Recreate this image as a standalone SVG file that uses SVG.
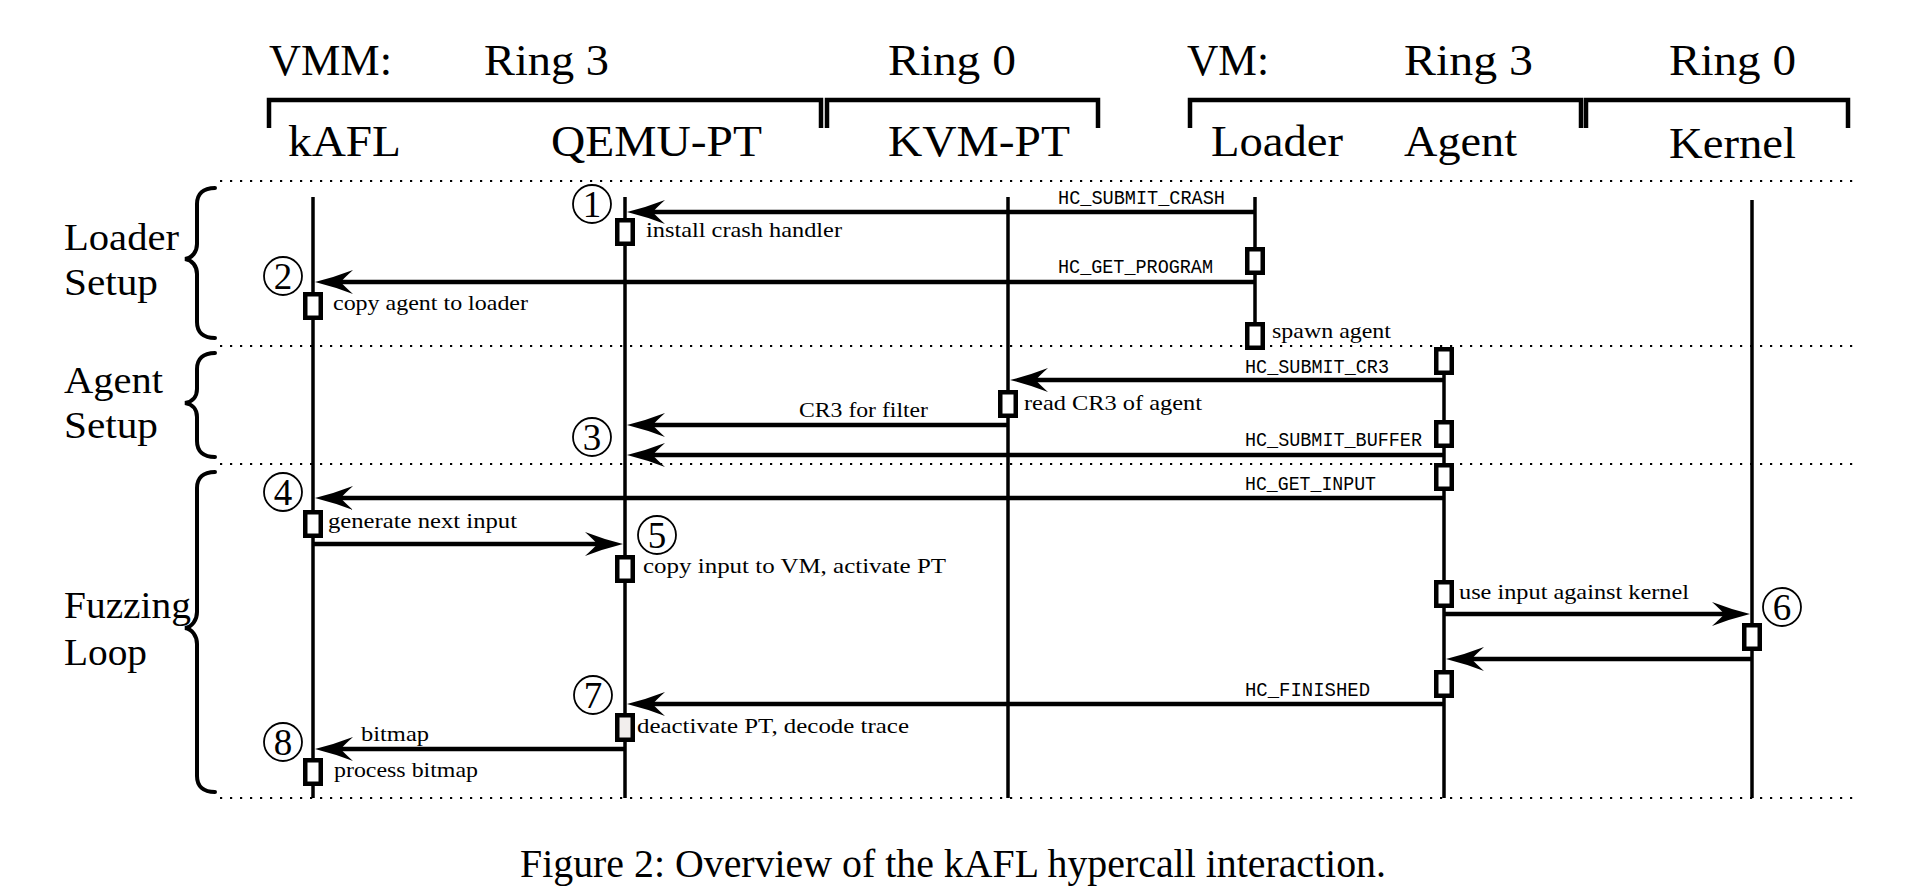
<svg xmlns="http://www.w3.org/2000/svg" width="1917" height="891" viewBox="0 0 1917 891">
<defs>
<style>
.hd{font-family:"Liberation Serif","Times New Roman",serif;font-size:44px;fill:#000}
.sd{font-family:"Liberation Serif","Times New Roman",serif;font-size:37.5px;fill:#000}
.sm{font-family:"Liberation Serif","Times New Roman",serif;font-size:21.7px;fill:#000}
.tt{font-family:"Liberation Mono","Courier New",monospace;font-size:21px;fill:#000}
.cap{font-family:"Liberation Serif","Times New Roman",serif;font-size:40px;fill:#000}
.num{font-family:"Liberation Serif","Times New Roman",serif;font-size:37px;fill:#000;text-anchor:middle}
.life{stroke:#000;stroke-width:3.5;fill:none}
.arr{stroke:#000;stroke-width:4.5;fill:none;marker-end:url(#ah)}
.box{fill:#fff;stroke:#000;stroke-width:4.5}
.box2{fill:#f2eeed;stroke:#000;stroke-width:4.5}
.dot{stroke:#000;stroke-width:2.2;stroke-dasharray:2.2 7.8;fill:none}
.brk{stroke:#000;stroke-width:4.5;fill:none;stroke-linejoin:miter}
.brace{stroke:#000;stroke-width:4;fill:none;stroke-linecap:round}
.circ{fill:none;stroke:#000;stroke-width:1.8}
</style>
<marker id="ah" viewBox="-40 -13 42 26" refX="-24" refY="0" markerWidth="42" markerHeight="26" markerUnits="userSpaceOnUse" orient="auto">
<path d="M0,0 Q-20,-5 -38,-12 Q-28,-3 -26,0 Q-28,3 -38,12 Q-20,5 0,0 Z" fill="#000"/>
</marker>
</defs>
<rect width="1917" height="891" fill="#fff"/>

<g id="header">
<text class="hd" x="269" y="75" textLength="123" lengthAdjust="spacingAndGlyphs">VMM:</text>
<text class="hd" x="484" y="75" textLength="125" lengthAdjust="spacingAndGlyphs">Ring 3</text>
<text class="hd" x="888" y="75" textLength="128" lengthAdjust="spacingAndGlyphs">Ring 0</text>
<text class="hd" x="1187" y="75" textLength="82" lengthAdjust="spacingAndGlyphs">VM:</text>
<text class="hd" x="1404" y="75" textLength="129" lengthAdjust="spacingAndGlyphs">Ring 3</text>
<text class="hd" x="1669" y="75" textLength="127" lengthAdjust="spacingAndGlyphs">Ring 0</text>
<path class="brk" d="M269,128 V100 H821 V128"/>
<path class="brk" d="M827,128 V100 H1098 V128"/>
<path class="brk" d="M1190,128 V100 H1581 V128"/>
<path class="brk" d="M1586,128 V100 H1848 V128"/>
</g>

<g id="separators">
<line class="dot" x1="220" y1="181" x2="1854" y2="181"/>
<line class="dot" x1="220" y1="346" x2="1854" y2="346"/>
<line class="dot" x1="220" y1="464" x2="1854" y2="464"/>
<line class="dot" x1="220" y1="798" x2="1854" y2="798"/>
</g>

<g id="phase-loader-setup">
<text class="sd" x="64" y="250" textLength="115" lengthAdjust="spacingAndGlyphs">Loader</text>
<text class="sd" x="64" y="295" textLength="94" lengthAdjust="spacingAndGlyphs">Setup</text>
<path class="brace" d="M215,188 C203,188 197,194 197,204 L197,244 C197,252 192,258 185,259 C192,260 197,266 197,274 L197,322 C197,332 203,338 215,338"/>
</g>
<g id="phase-agent-setup">
<text class="sd" x="64" y="393" textLength="99" lengthAdjust="spacingAndGlyphs">Agent</text>
<text class="sd" x="64" y="438" textLength="94" lengthAdjust="spacingAndGlyphs">Setup</text>
<path class="brace" d="M215,353 C203,353 197,359 197,369 L197,389 C197,397 192,402 185,403 C192,404 197,409 197,417 L197,441 C197,451 203,457 215,457"/>
</g>
<g id="phase-fuzzing-loop">
<text class="sd" x="64" y="618" textLength="127" lengthAdjust="spacingAndGlyphs">Fuzzing</text>
<text class="sd" x="64" y="665" textLength="83" lengthAdjust="spacingAndGlyphs">Loop</text>
<path class="brace" d="M215,472 C203,472 197,478 197,488 L197,612 C197,620 192,627 185,628 C192,629 197,636 197,644 L197,776 C197,786 203,792 215,792"/>
</g>

<g id="kafl">
<text class="hd" x="288" y="156" textLength="113" lengthAdjust="spacingAndGlyphs">kAFL</text>
<line class="life" x1="313" y1="197" x2="313" y2="798"/>
</g>
<g id="qemu-pt">
<text class="hd" x="551" y="156" textLength="211" lengthAdjust="spacingAndGlyphs">QEMU-PT</text>
<line class="life" x1="625" y1="197" x2="625" y2="798"/>
</g>
<g id="kvm-pt">
<text class="hd" x="888" y="156" textLength="182" lengthAdjust="spacingAndGlyphs">KVM-PT</text>
<line class="life" x1="1008" y1="197" x2="1008" y2="798"/>
</g>
<g id="loader">
<text class="hd" x="1211" y="156" textLength="132" lengthAdjust="spacingAndGlyphs">Loader</text>
<line class="life" x1="1255" y1="197" x2="1255" y2="347"/>
</g>
<g id="agent">
<text class="hd" x="1404" y="156" textLength="113" lengthAdjust="spacingAndGlyphs">Agent</text>
<line class="life" x1="1444" y1="347" x2="1444" y2="798"/>
</g>
<g id="kernel">
<text class="hd" x="1669" y="158" textLength="127" lengthAdjust="spacingAndGlyphs">Kernel</text>
<line class="life" x1="1752" y1="200" x2="1752" y2="798"/>
</g>

<g id="connectors">
<line class="arr" x1="1255" y1="212" x2="651" y2="212"/>
<text class="tt" x="1058" y="204" textLength="167" lengthAdjust="spacingAndGlyphs">HC_SUBMIT_CRASH</text>
<line class="arr" x1="1255" y1="282" x2="339" y2="282"/>
<text class="tt" x="1058" y="273" textLength="155" lengthAdjust="spacingAndGlyphs">HC_GET_PROGRAM</text>
<line class="arr" x1="1444" y1="380" x2="1034" y2="380"/>
<text class="tt" x="1245" y="373" textLength="144" lengthAdjust="spacingAndGlyphs">HC_SUBMIT_CR3</text>
<line class="arr" x1="1008" y1="425" x2="651" y2="425"/>
<text class="sm" x="799" y="417" textLength="129" lengthAdjust="spacingAndGlyphs">CR3 for filter</text>
<line class="arr" x1="1444" y1="455" x2="651" y2="455"/>
<text class="tt" x="1245" y="446" textLength="177" lengthAdjust="spacingAndGlyphs">HC_SUBMIT_BUFFER</text>
<line class="arr" x1="1444" y1="498" x2="339" y2="498"/>
<text class="tt" x="1245" y="490" textLength="131" lengthAdjust="spacingAndGlyphs">HC_GET_INPUT</text>
<line class="arr" x1="313" y1="544" x2="599" y2="544"/>
<line class="arr" x1="1444" y1="614" x2="1726" y2="614"/>
<line class="arr" x1="1752" y1="659" x2="1470" y2="659"/>
<line class="arr" x1="1444" y1="704" x2="651" y2="704"/>
<text class="tt" x="1245" y="696" textLength="125" lengthAdjust="spacingAndGlyphs">HC_FINISHED</text>
<line class="arr" x1="625" y1="749" x2="339" y2="749"/>
<text class="sm" x="361" y="741" textLength="68" lengthAdjust="spacingAndGlyphs">bitmap</text>
</g>

<g id="activations">
<rect class="box" x="617.25" y="220.25" width="15.5" height="23.5"/>
<text class="sm" x="646" y="237" textLength="196" lengthAdjust="spacingAndGlyphs">install crash handler</text>
<rect class="box" x="1247.25" y="249.25" width="15.5" height="23.5"/>
<rect class="box" x="305.25" y="294.25" width="15.5" height="23.5"/>
<text class="sm" x="333" y="310" textLength="195" lengthAdjust="spacingAndGlyphs">copy agent to loader</text>
<rect class="box" x="1247.25" y="324.25" width="15.5" height="23.5"/>
<text class="sm" x="1272" y="338" textLength="119" lengthAdjust="spacingAndGlyphs">spawn agent</text>
<rect class="box" x="1436.25" y="349.25" width="15.5" height="23.5"/>
<rect class="box" x="1000.25" y="392.25" width="15.5" height="23.5"/>
<text class="sm" x="1024" y="410" textLength="178" lengthAdjust="spacingAndGlyphs">read CR3 of agent</text>
<rect class="box" x="1436.25" y="422.25" width="15.5" height="23.5"/>
<rect class="box" x="1436.25" y="465.25" width="15.5" height="23.5"/>
<rect class="box" x="305.25" y="512.25" width="15.5" height="23.5"/>
<text class="sm" x="328" y="528" textLength="189" lengthAdjust="spacingAndGlyphs">generate next input</text>
<rect class="box" x="617.25" y="557.25" width="15.5" height="23.5"/>
<text class="sm" x="643" y="573" textLength="303" lengthAdjust="spacingAndGlyphs">copy input to VM, activate PT</text>
<rect class="box" x="1436.25" y="582.25" width="15.5" height="23.5"/>
<text class="sm" x="1459" y="599" textLength="230" lengthAdjust="spacingAndGlyphs">use input against kernel</text>
<rect class="box" x="1744.25" y="625.25" width="15.5" height="23.5"/>
<rect class="box" x="1436.25" y="672.25" width="15.5" height="23.5"/>
<rect class="box2" x="617.25" y="715.25" width="15.5" height="24.5"/>
<text class="sm" x="637" y="733" textLength="272" lengthAdjust="spacingAndGlyphs">deactivate PT, decode trace</text>
<rect class="box" x="305.25" y="760.25" width="15.5" height="23.5"/>
<text class="sm" x="334" y="777" textLength="144" lengthAdjust="spacingAndGlyphs">process bitmap</text>
</g>

<g id="steps">
<circle class="circ" cx="592" cy="204" r="19"/><text class="num" x="592" y="217">1</text>
<circle class="circ" cx="283" cy="276" r="19"/><text class="num" x="283" y="289">2</text>
<circle class="circ" cx="592" cy="437" r="19"/><text class="num" x="592" y="450">3</text>
<circle class="circ" cx="283" cy="492" r="19"/><text class="num" x="283" y="505">4</text>
<circle class="circ" cx="657" cy="535" r="19"/><text class="num" x="657" y="548">5</text>
<circle class="circ" cx="1782" cy="607" r="19"/><text class="num" x="1782" y="620">6</text>
<circle class="circ" cx="593" cy="695" r="19"/><text class="num" x="593" y="708">7</text>
<circle class="circ" cx="283" cy="742" r="19"/><text class="num" x="283" y="755">8</text>
</g>

<g id="caption">
<text class="cap" x="520" y="877" textLength="866" lengthAdjust="spacingAndGlyphs">Figure 2: Overview of the kAFL hypercall interaction.</text>
</g>
</svg>
